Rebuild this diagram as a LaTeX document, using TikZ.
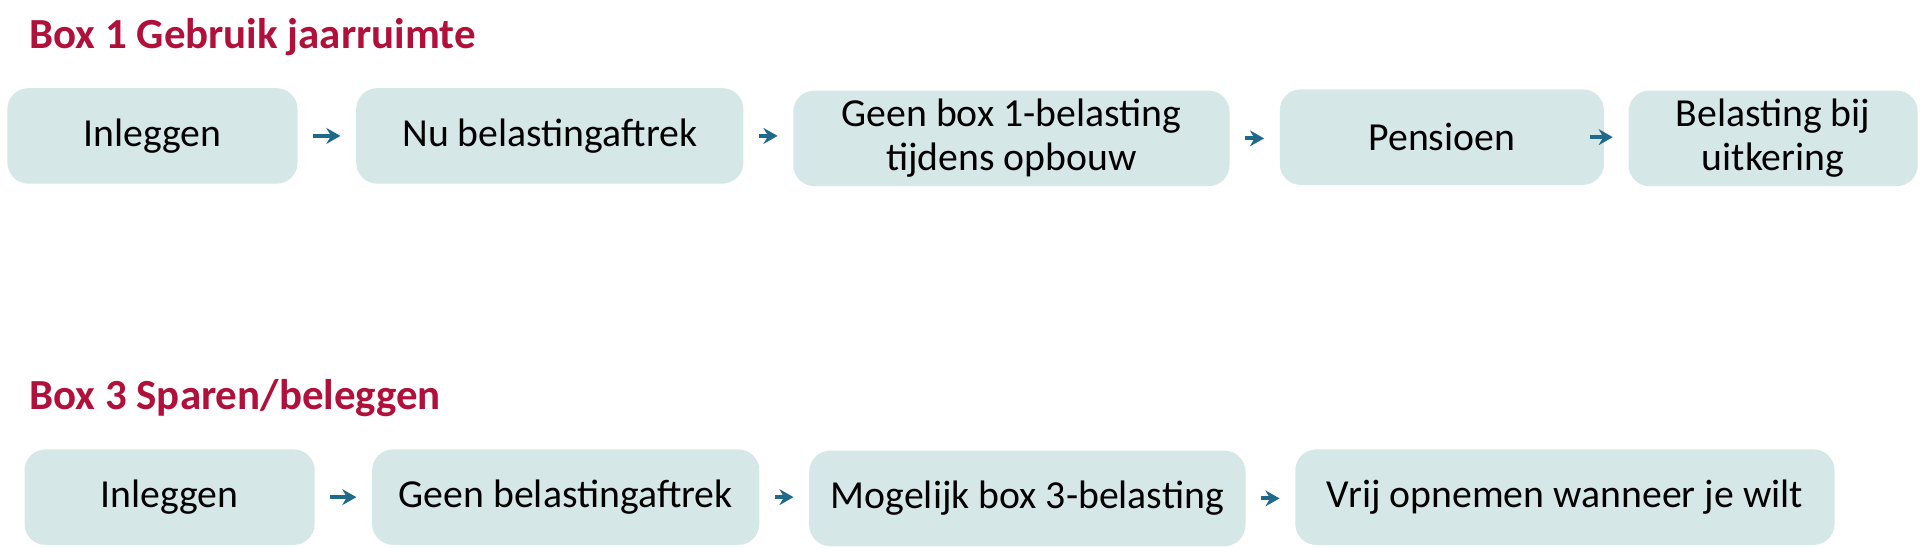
\documentclass[tikz,border=0pt]{standalone}
\usepackage{fontspec}
\setmainfont{Carlito}
\usetikzlibrary{positioning,arrows.meta}
\definecolor{stepfill}{HTML}{D6E7E8}
\definecolor{titlered}{HTML}{B0103A}
\definecolor{arrowblue}{HTML}{1F6A8A}
\tikzset{
  stage/.style={rectangle, rounded corners=6pt, fill=stepfill, text centered,
    minimum height=0.955cm, inner sep=2pt, font=\fontsize{11.3}{12.5}\selectfont,
    align=center},
  flow/.style={draw=arrowblue, line width=1.1pt, -{Stealth[length=4pt,width=4.5pt]},
    shorten <=0.15cm, shorten >=0.15cm},
  heading/.style={anchor=west, text=titlered, font=\fontsize{12.2}{13}\selectfont\bfseries}
}
\begin{document}
\begin{tikzpicture}[x=0.012245cm, y=-0.012245cm]
\useasboundingbox (0,0) rectangle (1568,447);
% box 1
\node[heading] (t1) at (14,30) {Box 1 Gebruik jaarruimte};
\node[stage, minimum width=2.90cm] (a1) at (124.5,111) {Inleggen};
\node[stage, minimum width=3.87cm] (a2) at (449,111) {Nu belastingaftrek};
\node[stage, minimum width=4.36cm] (a3) at (826,113) {Geen box 1-belasting\\tijdens opbouw};
\node[stage, minimum width=3.24cm] (a4) at (1177.5,112) {Pensioen};
\node[stage, minimum width=2.89cm] (a5) at (1448,113) {Belasting bij\\uitkering};
\foreach \i/\j in {a1/a2,a2/a3,a3/a4,a4/a5}
  \draw[flow] (\i) -- (\i -| \j.west);
% box 3
\node[heading] (t2) at (14,325) {Box 3 Sparen/beleggen};
\node[stage, minimum width=2.90cm] (b1) at (138.5,406) {Inleggen};
\node[stage, minimum width=3.87cm] (b2) at (462,406) {Geen belastingaftrek};
\node[stage, minimum width=4.36cm] (b3) at (839,407) {Mogelijk box 3-belasting};
\node[stage, minimum width=5.39cm] (b4) at (1278,406) {Vrij opnemen wanneer je wilt};
\foreach \i/\j in {b1/b2,b2/b3,b3/b4}
  \draw[flow] (\i) -- (\i -| \j.west);
\end{tikzpicture}
\end{document}
